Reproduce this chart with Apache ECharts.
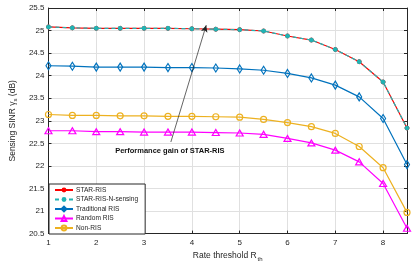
<!DOCTYPE html>
<html><head><meta charset="utf-8">
<script src="https://cdn.jsdelivr.net/npm/echarts@6/dist/echarts.min.js"></script>
<style>html,body{margin:0;padding:0;background:#fff}#c{width:415px;height:267px}</style>
</head><body><div id="c"></div>
<script>
const xs = [1,1.5,2,2.5,3,3.5,4,4.5,5,5.5,6,6.5,7,7.5,8,8.5];
const starRIS   = [25.08,25.06,25.05,25.05,25.05,25.05,25.04,25.03,25.02,24.99,24.88,24.79,24.58,24.31,23.86,22.84];
const starNS    = [25.08,25.06,25.05,25.05,25.05,25.05,25.04,25.03,25.02,24.99,24.88,24.79,24.58,24.31,23.86,22.84];
const tradRIS   = [24.22,24.21,24.19,24.19,24.19,24.18,24.18,24.17,24.15,24.12,24.05,23.95,23.79,23.53,23.05,22.03];
const randomRIS = [22.78,22.78,22.76,22.76,22.75,22.75,22.75,22.74,22.73,22.70,22.61,22.51,22.35,22.09,21.61,20.62];
const nonRIS    = [23.14,23.12,23.12,23.11,23.11,23.10,23.10,23.09,23.08,23.03,22.96,22.87,22.72,22.43,21.96,20.97];
const names = ['STAR-RIS','STAR-RIS-N-sensing','Traditional RIS','Random RIS','Non-RIS'];
const annText = 'Performance gain of STAR-RIS';
const annFrom = [3.56, 22.53];
const annTo = [4.30, 25.12];
const annLabelAt = [3.54, 22.34];

const pair = a => xs.map((x,i)=>[x,a[i]]);
const FONT = 'Liberation Sans, Arial, sans-serif';
const AX = '#262626';
const chart = echarts.init(document.getElementById('c'));
chart.setOption({
  animation:false,
  textStyle:{fontFamily:FONT},
  grid:{left:41,right:8,top:8,bottom:28},
  xAxis:[{
    type:'value',min:1,max:8.5,interval:1,
    axisLine:{onZero:false,lineStyle:{color:AX,width:1}},
    axisTick:{inside:true,length:3,lineStyle:{color:AX}},
    axisLabel:{color:AX,fontSize:8,margin:5,showMaxLabel:false,fontFamily:FONT},
    splitLine:{show:true,lineStyle:{color:'#e0e0e0',width:1}},
    name:'{a|Rate threshold R}{s|th}',nameLocation:'middle',nameGap:15,
    nameTextStyle:{rich:{a:{fontSize:8.5,color:AX,fontFamily:FONT},s:{fontSize:6,color:AX,verticalAlign:'bottom',padding:[6,0,0,1],fontFamily:FONT}}}
  },{
    type:'value',min:1,max:8.5,interval:1,position:'top',
    axisLine:{onZero:false,lineStyle:{color:AX,width:1}},
    axisTick:{inside:true,length:3,lineStyle:{color:AX}},
    axisLabel:{show:false},splitLine:{show:false}
  }],
  yAxis:[{
    type:'value',min:20.5,max:25.5,interval:0.5,
    axisLine:{show:true,onZero:false,lineStyle:{color:AX,width:1}},
    axisTick:{show:true,inside:true,length:3,lineStyle:{color:AX}},
    axisLabel:{color:AX,fontSize:8,margin:4,fontFamily:FONT},
    splitLine:{show:true,lineStyle:{color:'#e0e0e0',width:1}},
    name:'{a|Sensing SINR γ}{s|s}{a| (dB)}',nameLocation:'middle',nameGap:26,
    nameTextStyle:{rich:{a:{fontSize:8.5,color:AX,fontFamily:FONT},s:{fontSize:6,color:AX,padding:[5,0,0,0],fontFamily:FONT}}}
  },{
    type:'value',min:20.5,max:25.5,interval:0.5,position:'right',
    axisLine:{show:true,onZero:false,lineStyle:{color:AX,width:1}},
    axisTick:{show:true,inside:true,length:3,lineStyle:{color:AX}},
    axisLabel:{show:false},splitLine:{show:false}
  }],
  legend:{
    left:49,top:184,orient:'vertical',
    backgroundColor:'#fff',borderColor:AX,borderWidth:1,borderRadius:0,
    padding:[2,7,2,5],itemGap:1.5,itemWidth:18,itemHeight:6,
    textStyle:{fontSize:6.6,lineHeight:8,color:AX,fontFamily:FONT,padding:[0,0,0,-2]},
    data:names
  },
  series:[
    {name:names[0],type:'line',data:pair(starRIS),symbol:'circle',symbolSize:4,
     lineStyle:{color:'#ff0000',width:1.2},itemStyle:{color:'#ff0000',borderColor:'#ff0000'},z:2},
    {name:names[1],type:'line',data:pair(starNS),symbol:'circle',symbolSize:4,showSymbol:true,
     lineStyle:{color:'#20b4b4',width:1.2,type:[4,3]},itemStyle:{color:'#20b4b4',borderColor:'#20b4b4'},z:3},
    {name:names[2],type:'line',data:pair(tradRIS),symbol:'diamond',symbolSize:[5,8],
     lineStyle:{color:'#0072bd',width:1.2},itemStyle:{color:'rgba(255,255,255,0)',borderColor:'#0072bd',borderWidth:1.2},z:2},
    {name:names[3],type:'line',data:pair(randomRIS),symbol:'triangle',symbolSize:[7,6],
     lineStyle:{color:'#ff00ff',width:1.2},itemStyle:{color:'rgba(255,255,255,0)',borderColor:'#ff00ff',borderWidth:1.2},z:2},
    {name:names[4],type:'line',data:pair(nonRIS),symbol:'circle',symbolSize:6,
     lineStyle:{color:'#edb120',width:1.2},itemStyle:{color:'rgba(255,255,255,0)',borderColor:'#edb120',borderWidth:1.2},z:2,
     markLine:{silent:true,symbol:['none','arrow'],symbolSize:[5,7],
       lineStyle:{color:'#222',width:0.7,type:'solid'},label:{show:false},
       data:[[{coord:annFrom},{coord:annTo}]]},
     markPoint:{silent:true,symbol:'circle',symbolSize:0,
       data:[{coord:annLabelAt,label:{show:true,formatter:annText,fontSize:7.5,fontWeight:'bold',color:'#111',fontFamily:FONT}}]}
    }
  ]
});
</script></body></html>
